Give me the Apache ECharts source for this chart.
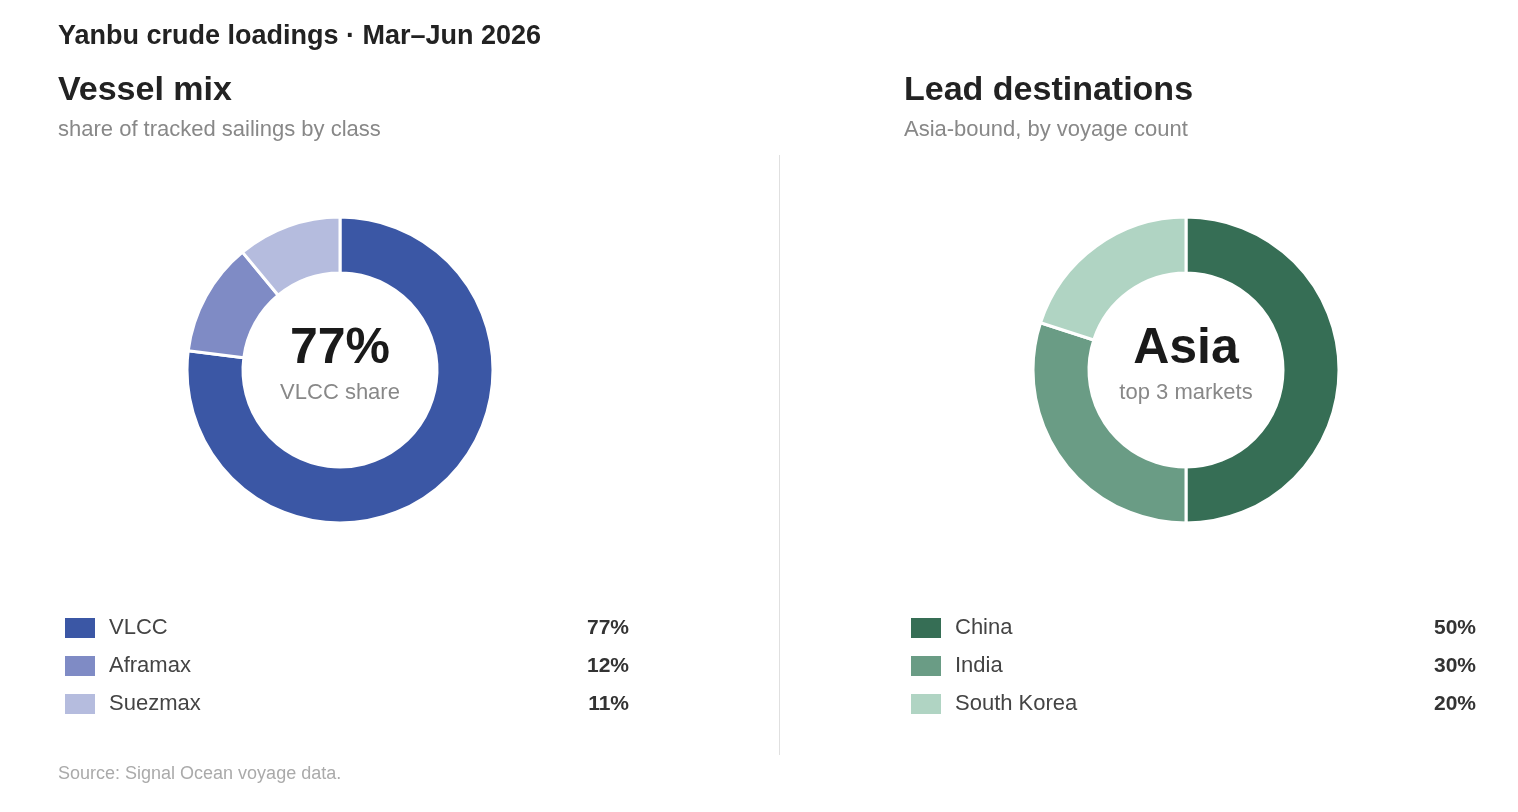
<!DOCTYPE html>
<html>
<head>
<meta charset="utf-8">
<title>Yanbu crude loadings</title>
<script src="https://cdn.jsdelivr.net/npm/echarts@6/dist/echarts.min.js"></script>
<style>
  html, body { margin: 0; padding: 0; background: #fff; }
  #chart { width: 1518px; height: 812px; }
</style>
</head>
<body>
<div id="chart"></div>
<script>
// data
const vesselClasses = ['VLCC', 'Aframax', 'Suezmax'];
const vesselShares = [77, 12, 11];
const vesselColors = ['#3b57a5', '#7f8bc5', '#b5bcde'];

const destinations = ['China', 'India', 'South Korea'];
const destinationShares = [50, 30, 20];
const destinationColors = ['#366e55', '#6a9c85', '#b0d4c3'];

const FONT = 'Liberation Sans';

const chart = echarts.init(document.getElementById('chart'));

function txt(x, y, text, size, weight, fill, align) {
  return {
    type: 'text', x: x, y: y,
    style: {
      text: text, fontFamily: FONT, fontSize: size, fontWeight: weight,
      fill: fill, align: align || 'left', verticalAlign: 'middle'
    }
  };
}

// legend rows built from the arrays (swatch, name, value)
function legendRows(names, values, colors, x0, xRight) {
  const out = [];
  names.forEach((name, i) => {
    const y = 628 + i * 38;
    out.push({
      type: 'rect',
      shape: { x: x0, y: y - 10, width: 30, height: 20 },
      style: { fill: colors[i] }
    });
    out.push(txt(x0 + 44, y, name, 22, 'normal', '#444'));
    out.push(txt(xRight, y, values[i] + '%', 21, 'bold', '#333', 'right'));
  });
  return out;
}

const graphics = [
  txt(58, 37, 'Yanbu crude loadings · Mar–Jun 2026', 27, 'bold', '#222'),
  txt(58, 91, 'Vessel mix', 34, 'bold', '#222'),
  txt(58, 130, 'share of tracked sailings by class', 22, 'normal', '#888'),
  txt(904, 91, 'Lead destinations', 34, 'bold', '#222'),
  txt(904, 130, 'Asia-bound, by voyage count', 22, 'normal', '#888'),
  // centre labels
  txt(340, 349, vesselShares[0] + '%', 50, 'bold', '#1a1a1a', 'center'),
  txt(340, 393, 'VLCC share', 22, 'normal', '#888', 'center'),
  txt(1186, 349, 'Asia', 50, 'bold', '#1a1a1a', 'center'),
  txt(1186, 393, 'top 3 markets', 22, 'normal', '#888', 'center'),
  // divider
  { type: 'line', shape: { x1: 779.5, y1: 155, x2: 779.5, y2: 755 },
    style: { stroke: '#e0e0e0', lineWidth: 1 } },
  txt(58, 774, 'Source: Signal Ocean voyage data.', 18, 'normal', '#aaa')
].concat(
  legendRows(vesselClasses, vesselShares, vesselColors, 65, 629),
  legendRows(destinations, destinationShares, destinationColors, 911, 1476)
);

function donut(names, values, colors, cx) {
  return {
    type: 'pie',
    center: [cx, 370],
    radius: [97, 153],
    startAngle: 90,
    clockwise: true,
    silent: true,
    label: { show: false },
    labelLine: { show: false },
    itemStyle: { borderColor: '#fff', borderWidth: 3 },
    data: names.map((n, i) => ({ name: n, value: values[i], itemStyle: { color: colors[i] } }))
  };
}

chart.setOption({
  animation: false,
  backgroundColor: '#fff',
  series: [
    donut(vesselClasses, vesselShares, vesselColors, 340),
    donut(destinations, destinationShares, destinationColors, 1186)
  ],
  graphic: graphics
});
</script>
</body>
</html>
